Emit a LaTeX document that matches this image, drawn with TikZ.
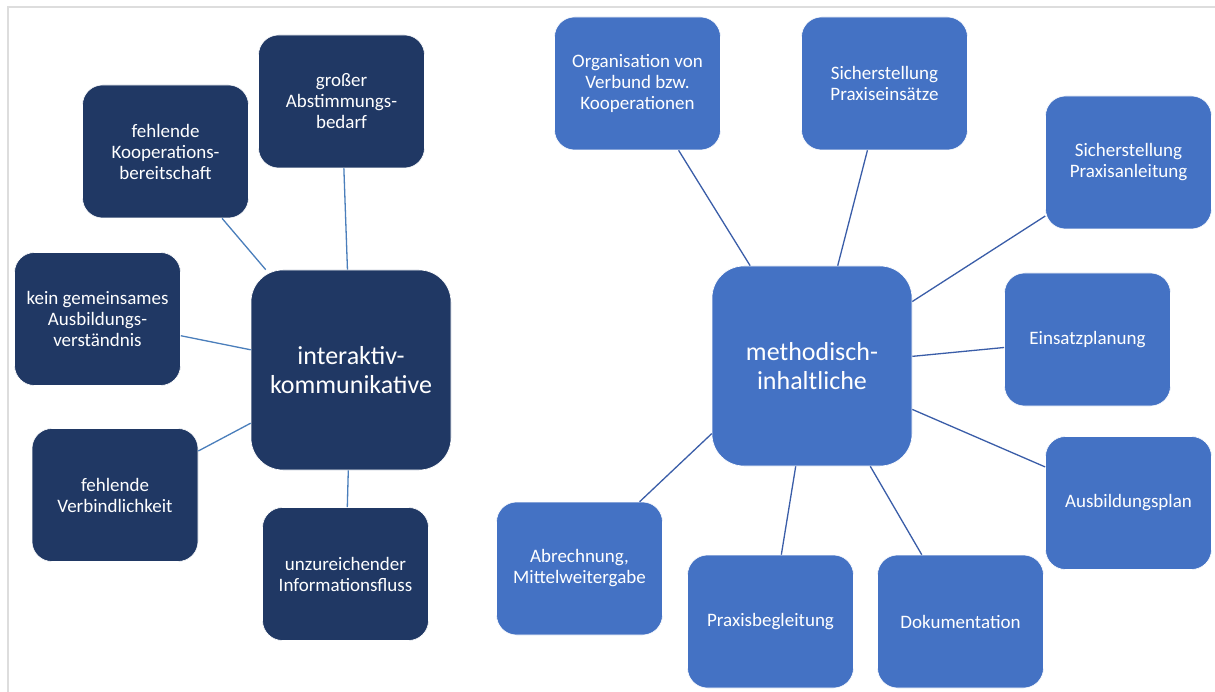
\documentclass[tikz,border=0pt]{standalone}
\usepackage{fontspec}
\setmainfont{Carlito}
\usepackage{xcolor}
\definecolor{navybox}{HTML}{203864}
\definecolor{officeblue}{HTML}{4472C4}
\definecolor{leftline}{HTML}{4A7EBB}
\definecolor{rightline}{HTML}{3A5DA8}
\definecolor{framegray}{HTML}{DDDDDD}

\begin{document}
\begin{tikzpicture}[x=1pt, y=-1pt,
      box/.style={rectangle, rounded corners=20pt, draw=white, line width=0.6pt, text=white, align=center,
        minimum width=166pt, minimum height=133pt, inner sep=0pt, font=\fontsize{19}{21}\selectfont},
      hub/.style={box, rounded corners=32pt, minimum width=200pt, minimum height=200pt, font=\fontsize{26}{29}\selectfont},
      darkbox/.style={fill=navybox},
      lightbox/.style={fill=officeblue},
      leftlink/.style={leftline, line width=1.3pt},
      rightlink/.style={rightline, line width=1.3pt}]
      \useasboundingbox (0, 0) rectangle (1215, 692);
      \fill[white] (0, 0) rectangle (1215, 692);
      \draw[framegray, line width=2pt] (1215, 7) -- (8, 7) -- (8, 692);
      
      \node[hub, darkbox] (inter) at (351, 370) {interaktiv-\\kommunikative};
      \node[box, darkbox] (gross) at (341.5, 101.5) {großer\\Abstimmungs-\\bedarf};
      \node[box, darkbox] (koop) at (165.5, 151.5) {fehlende\\Kooperations-\\bereitschaft};
      \node[box, darkbox] (kein) at (97.5, 319) {kein gemeinsames\\Ausbildungs-\\verständnis};
      \node[box, darkbox] (verb) at (115, 495) {fehlende\\Verbindlichkeit};
      \node[box, darkbox] (info) at (345.5, 574) {unzureichender\\Informationsfluss};
      
      \node[hub, lightbox] (meth) at (812, 366) {methodisch-\\inhaltliche};
      \node[box, lightbox] (orga) at (637.5, 83.5) {Organisation von\\Verbund bzw.\\Kooperationen};
      \node[box, lightbox] (einsatz) at (884.5, 83.5) {Sicherstellung\\Praxiseinsätze};
      \node[box, lightbox] (anleit) at (1128.5, 162.5) {Sicherstellung\\Praxisanleitung};
      \node[box, lightbox] (planung) at (1087.5, 339.5) {Einsatzplanung};
      \node[box, lightbox] (ausb) at (1128.5, 503) {Ausbildungsplan};
      \node[box, lightbox] (doku) at (960.5, 621.5) {Dokumentation};
      \node[box, lightbox] (begl) at (770.5, 621.5) {Praxisbegleitung};
      \node[box, lightbox] (abr) at (579.5, 568.5) {Abrechnung,\\Mittelweitergabe};
      
      \foreach \n in {gross, koop, kein, verb, info}
        \draw[leftlink] (inter) -- (\n);
      \foreach \n in {orga, einsatz, anleit, planung, ausb, doku, begl}
        \draw[rightlink] (meth) -- (\n);
      \draw[rightlink] (meth.214) -- (abr.48);
      
    \end{tikzpicture}
\end{document}
